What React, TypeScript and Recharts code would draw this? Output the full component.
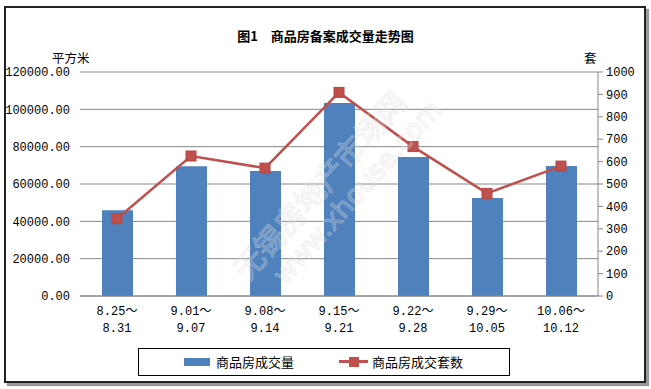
import { ComposedChart, Bar, Line, XAxis, YAxis, CartesianGrid } from 'recharts';

const WEEKS_START = ['8.25', '9.01', '9.08', '9.15', '9.22', '9.29', '10.06'];
const WEEKS_END = ['8.31', '9.07', '9.14', '9.21', '9.28', '10.05', '10.12'];
const AREA = [46000, 69500, 67000, 103400, 74500, 52500, 69600];
const UNITS = [345, 625, 571, 909, 667, 458, 580];
const LEFT_TICKS = [0, 20000, 40000, 60000, 80000, 100000, 120000];
const RIGHT_TICKS = [0, 100, 200, 300, 400, 500, 600, 700, 800, 900, 1000];

const BLUE = '#4F81BD';
const RED = '#C0504D';
const GRID = '#868686';
const CJK = '"Noto Sans CJK SC", "Noto Sans", sans-serif';
const NUM = '"Liberation Mono", "DejaVu Sans Mono", monospace';

const data = WEEKS_START.map((s, i) => ({
  cat: `${s}～${WEEKS_END[i]}`,
  area: AREA[i],
  units: UNITS[i],
}));

// two-line week label: "start～" over "end"
const CatTick = (props: any) => {
  const { x, y, index } = props;
  return (
    <g>
      <text x={x} y={y + 11} textAnchor="middle" fontFamily={NUM} fontSize={12} fill="#000">
        {WEEKS_START[index]}
        <tspan fontFamily={CJK} fontSize={12}>～</tspan>
      </text>
      <text x={x} y={y + 28} textAnchor="middle" fontFamily={NUM} fontSize={12} fill="#000">
        {WEEKS_END[index]}
      </text>
    </g>
  );
};

const SquareDot = (props: any) => {
  const { cx, cy, index } = props;
  if (cx == null || cy == null) return null;
  return <rect key={`d-${index}`} x={cx - 5} y={cy - 5} width={10} height={10} fill={RED} stroke="#B5453F" strokeWidth={1} />;
};

export default function App() {
  return (
    <div style={{ position: 'absolute', left: 0, top: 0, width: 651, height: 389, background: '#fff', overflow: 'hidden' }}>
      {/* outer frame */}
      <div
        style={{
          position: 'absolute', left: 4, top: 6, width: 638, height: 373,
          border: '2px solid #222', boxShadow: '3px 3px 1px #999',
        }}
      />
      <div
        style={{
          position: 'absolute', left: 0, top: 26, width: 651, textAlign: 'center',
          fontFamily: CJK, fontWeight: 'bold', fontSize: 13, color: '#000',
        }}
      >
        图1　商品房备案成交量走势图
      </div>
      <div style={{ position: 'absolute', left: 52, top: 48, fontFamily: CJK, fontSize: 12.5, color: '#000' }}>平方米</div>
      <div style={{ position: 'absolute', left: 584, top: 48, fontFamily: CJK, fontSize: 12.5, color: '#000' }}>套</div>

      <div style={{ position: 'absolute', left: 0, top: 0 }}>
        <ComposedChart width={651} height={389} data={data} margin={{ top: 72, right: 0, bottom: 43, left: 0 }}>
          <CartesianGrid vertical={false} stroke={GRID} yAxisId="left" />
          <XAxis
            dataKey="cat"
            axisLine={{ stroke: GRID }}
            tickLine={false}
            tick={<CatTick />}
            height={50}
            interval={0}
          />
          <YAxis
            yAxisId="left"
            width={80}
            domain={[0, 120000]}
            ticks={LEFT_TICKS}
            axisLine={false}
            tickLine={false}
            tickMargin={4}
            tickFormatter={(v: number) => v.toFixed(2)}
            tick={{ fill: '#000', fontSize: 12, fontFamily: NUM }}
          />
          <YAxis
            yAxisId="right"
            orientation="right"
            width={53}
            domain={[0, 1000]}
            ticks={RIGHT_TICKS}
            axisLine={{ stroke: GRID }}
            tickLine={{ stroke: GRID }}
            tickSize={5}
            tickMargin={3}
            tick={{ fill: '#000', fontSize: 12, fontFamily: NUM }}
          />
          <Bar yAxisId="left" dataKey="area" fill={BLUE} barSize={31} isAnimationActive={false} />
          <Line
            yAxisId="right"
            dataKey="units"
            stroke={RED}
            strokeWidth={2.5}
            dot={<SquareDot />}
            activeDot={false}
            isAnimationActive={false}
          />
        </ComposedChart>
      </div>

      {/* watermark */}
      <svg width={651} height={389} style={{ position: 'absolute', left: 0, top: 0, pointerEvents: 'none' }}>
        <g transform="translate(248,282) rotate(-48)" opacity={0.45}>
          <text x={0} y={0} fontFamily={CJK} fontSize={30} fill="rgba(255,255,255,0.35)" stroke="#d9d9d9" strokeWidth={1}>
            无锡房地产市场网
          </text>
          <text x={22} y={30} fontFamily='"DejaVu Sans", sans-serif' fontSize={27} fill="rgba(255,255,255,0.35)" stroke="#d9d9d9" strokeWidth={1}>
            www.xhouse.com
          </text>
        </g>
      </svg>

      {/* legend */}
      <div
        style={{
          position: 'absolute', left: 138, top: 348, width: 370, height: 26,
          border: '1px solid #000', fontFamily: CJK, fontSize: 13, color: '#000',
        }}
      >
        <div style={{ position: 'absolute', left: 45, top: 9, width: 26, height: 8, background: BLUE }} />
        <div style={{ position: 'absolute', left: 77, top: 4, lineHeight: '18px' }}>商品房成交量</div>
        <div style={{ position: 'absolute', left: 200, top: 11, width: 29, height: 3, background: RED }} />
        <div style={{ position: 'absolute', left: 210, top: 8, width: 10, height: 10, background: RED }} />
        <div style={{ position: 'absolute', left: 233, top: 4, lineHeight: '18px' }}>商品房成交套数</div>
      </div>
    </div>
  );
}
